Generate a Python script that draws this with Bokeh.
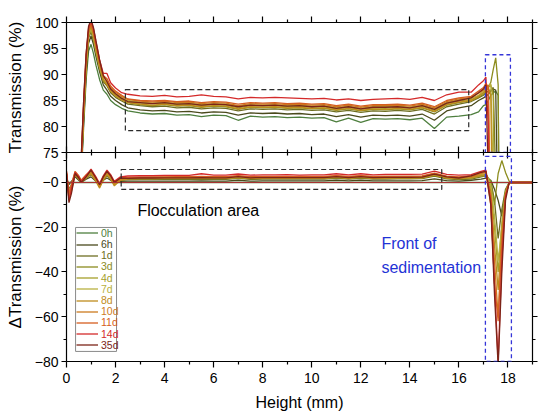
from bokeh.plotting import figure
from bokeh.layouts import column
from bokeh.models import (Range1d, LinearAxis, FixedTicker, BoxAnnotation, Span,
                          Label, Legend, LegendItem, CustomLabelingPolicy)
from bokeh.embed import file_html
from bokeh.resources import INLINE

FONT = "Liberation Sans"

series = ["0h", "6h", "1d", "3d", "4d", "7d", "8d", "10d", "11d", "14d", "35d"]
colors = ["#4e7f3e", "#4a4a1c", "#6e6e22", "#8c8c1e", "#a6a02a", "#b8b040",
          "#bf8c1c", "#cc7a1e", "#d55e20", "#d42a2a", "#7c2418"]

# ---------------- top panel: Transmission (%) ----------------
x_top = ([0.5, 0.6, 0.7, 0.8, 0.9, 1.0, 1.1, 1.2, 1.35, 1.5, 1.65, 1.8, 2.0, 2.25]
         + [2.5, 3.0, 3.5, 4.0, 4.5, 5.0, 5.5, 6.0, 6.5, 7.0, 7.5, 8.0, 8.5, 9.0,
            9.5, 10.0, 10.5, 11.0, 11.5, 12.0, 12.5, 13.0, 13.5, 14.0, 14.5, 15.0, 15.5, 16.0]
         + [16.5, 16.8, 17.0, 17.1, 17.2, 17.3, 17.4, 17.5, 17.6, 17.7, 17.8])

t_0h = ([60, 70, 80, 89, 94.5, 95.8, 94.0, 91.8, 89.0, 87.0, 86.2, 85.0, 84.2, 83.5]
        + [83.0, 82.6, 82.4, 82.5, 82.2, 82.3, 81.9, 82.2, 82.1, 81.2, 82.0, 81.8, 81.9, 81.7,
           81.8, 81.6, 81.7, 80.9, 81.6, 80.8, 81.5, 81.4, 81.5, 81.3, 81.6, 79.6, 81.8, 82.0]
        + [82.3, 82.8, 84.0, 84.2, 85.0, 86.0, 86.5, 86.8, 86.0, 30.0, 5.0])
t_6h = ([60, 71, 81, 90, 96.0, 97.4, 95.8, 93.5, 90.5, 88.0, 87.0, 85.8, 85.0, 84.2]
        + [83.6, 83.2, 83.0, 83.1, 82.8, 82.9, 82.6, 82.8, 82.7, 82.2, 82.6, 82.5, 82.6, 82.4,
           82.5, 82.3, 82.4, 81.9, 82.3, 81.8, 82.2, 82.1, 82.2, 82.0, 82.4, 81.2, 83.0, 83.6]
        + [84.0, 85.0, 85.5, 85.8, 86.2, 86.8, 87.2, 87.0, 60.0, 8.0, 5.0])
t_1d = ([61, 71, 82, 91, 97.0, 98.2, 96.5, 94.0, 91.0, 88.6, 87.8, 86.5, 85.6, 84.9]
        + [84.3, 84.0, 83.8, 83.9, 83.6, 83.7, 83.4, 83.6, 83.5, 83.0, 83.4, 83.3, 83.4, 83.2,
           83.3, 83.1, 83.2, 82.8, 83.1, 82.7, 83.0, 82.9, 83.1, 82.9, 83.3, 82.4, 83.8, 84.3]
        + [84.8, 85.5, 86.0, 86.5, 86.8, 87.0, 87.5, 70.0, 10.0, 6.0, 5.0])
t_3d = ([61, 72, 82, 91, 97.2, 98.6, 97.0, 94.5, 91.3, 88.8, 88.0, 86.8, 85.9, 85.2]
        + [84.6, 84.2, 84.0, 84.2, 83.9, 84.0, 83.7, 83.9, 83.8, 83.3, 83.7, 83.6, 83.7, 83.5,
           83.6, 83.4, 83.5, 83.1, 83.4, 83.0, 83.3, 83.2, 83.4, 83.2, 83.6, 82.8, 84.1, 84.6]
        + [85.0, 85.6, 86.2, 86.8, 87.5, 88.5, 91.0, 93.2, 88.0, 20.0, 5.0])
t_4d = ([61, 72, 83, 92, 97.8, 99.0, 97.4, 94.8, 91.5, 89.0, 88.2, 87.0, 86.1, 85.4]
        + [84.8, 84.5, 84.4, 84.5, 84.2, 84.3, 84.0, 84.2, 84.1, 83.6, 84.0, 83.9, 84.0, 83.8,
           83.9, 83.7, 83.8, 83.4, 83.7, 83.3, 83.6, 83.5, 83.7, 83.5, 83.9, 83.1, 84.4, 84.9]
        + [85.2, 85.8, 86.5, 87.0, 87.5, 88.0, 86.0, 40.0, 8.0, 5.0, 5.0])
t_7d = ([61, 72, 83, 92, 97.5, 98.8, 97.2, 94.6, 91.4, 89.2, 88.4, 87.2, 86.3, 85.6]
        + [85.0, 84.7, 84.5, 84.7, 84.4, 84.5, 84.2, 84.4, 84.3, 83.9, 84.2, 84.1, 84.2, 84.0,
           84.1, 83.9, 84.0, 83.6, 83.9, 83.5, 83.8, 83.8, 83.9, 83.7, 84.1, 83.4, 84.6, 85.1]
        + [85.4, 86.0, 86.8, 87.2, 87.8, 88.2, 70.0, 10.0, 6.0, 5.0, 5.0])
t_8d = ([62, 72, 83, 92, 98.0, 99.2, 97.6, 95.0, 91.8, 89.0, 88.0, 86.8, 85.9, 85.1]
        + [84.6, 84.3, 84.1, 84.3, 84.0, 84.1, 83.8, 84.0, 83.9, 83.4, 83.8, 83.7, 83.8, 83.6,
           83.7, 83.5, 83.6, 83.2, 83.5, 83.1, 83.4, 83.3, 83.5, 83.3, 83.7, 82.9, 84.2, 84.7]
        + [85.0, 85.8, 86.5, 87.0, 87.5, 86.0, 50.0, 8.0, 5.0, 5.0, 5.0])
t_10d = ([62, 73, 84, 93, 98.3, 99.5, 98.0, 95.4, 92.0, 89.5, 88.8, 87.5, 86.6, 85.8]
         + [85.2, 84.9, 84.7, 84.9, 84.6, 84.7, 84.4, 84.6, 84.5, 84.0, 84.4, 84.3, 84.4, 84.2,
            84.3, 84.1, 84.2, 83.8, 84.1, 83.7, 84.0, 84.0, 84.1, 83.9, 84.3, 83.6, 84.8, 85.3]
         + [85.6, 86.4, 87.0, 87.5, 88.0, 60.0, 10.0, 6.0, 5.0, 5.0, 5.0])
t_11d = ([62, 73, 84, 93, 98.6, 99.8, 98.3, 95.8, 92.3, 89.8, 89.2, 87.8, 86.8, 86.0]
         + [85.3, 85.0, 84.9, 85.0, 84.8, 84.9, 84.6, 84.8, 84.7, 84.3, 84.6, 84.5, 84.6, 84.4,
            84.5, 84.3, 84.4, 84.0, 84.3, 83.9, 84.2, 84.2, 84.3, 84.1, 84.5, 83.8, 85.0, 85.5]
         + [85.8, 86.8, 87.5, 88.3, 87.5, 40.0, 8.0, 5.0, 5.0, 5.0, 5.0])
t_14d = ([63, 74, 85, 94, 99.0, 100.3, 98.8, 96.3, 92.8, 90.2, 90.2, 88.4, 87.4, 86.5]
         + [86.2, 85.9, 85.8, 86.0, 85.7, 85.8, 86.1, 85.8, 85.7, 85.3, 85.6, 85.5, 85.6, 85.5,
            85.4, 85.3, 85.4, 85.1, 85.3, 85.0, 85.2, 85.3, 85.4, 85.2, 85.6, 85.0, 86.1, 86.6]
         + [86.6, 88.0, 88.8, 89.5, 80.0, 10.0, 6.0, 5.0, 5.0, 5.0, 5.0])
t_35d = ([63, 74, 85, 94, 99.3, 100.6, 99.0, 96.5, 92.8, 89.8, 88.6, 87.2, 86.3, 85.4]
         + [84.8, 84.6, 84.4, 84.6, 84.3, 84.4, 84.1, 84.3, 84.2, 83.8, 84.1, 84.0, 84.1, 83.9,
            84.0, 83.8, 83.9, 83.5, 83.8, 83.4, 83.7, 83.7, 83.8, 83.6, 84.0, 83.3, 84.5, 85.0]
         + [85.5, 86.5, 87.2, 88.0, 70.0, 8.0, 5.0, 5.0, 5.0, 5.0, 5.0])
top_values = [t_0h, t_6h, t_1d, t_3d, t_4d, t_7d, t_8d, t_10d, t_11d, t_14d, t_35d]

# ---------------- bottom panel: delta Transmission (%) ----------------
x_bot = ([0.0, 0.1, 0.2, 0.35, 0.5, 0.6, 0.8, 1.0, 1.2, 1.35, 1.5, 1.65, 1.8, 1.95, 2.2]
         + [2.5, 3.0, 3.5, 4.0, 4.5, 5.0, 5.5, 6.0, 6.5, 7.0, 7.5, 8.0, 8.5, 9.0,
            9.5, 10.0, 10.5, 11.0, 11.5, 12.0, 12.5, 13.0, 13.5, 14.0, 14.5, 15.0, 15.5, 16.0]
         + [16.5, 16.9, 17.1, 17.3, 17.45, 17.6, 17.75, 17.9, 18.05, 18.3, 19.0])

# 0h is the reference profile: its delta is zero over the whole height
x_bot_0h = [0.0, 19.0]
d_0h = [0.0, 0.0]
d_6h = ([2.0, -1.0, 0.5, 2.5, 1.0, 0.0, 1.5, 2.5, 0.5, -0.5, 1.0, 2.0, 1.0, 0.0, 0.5]
        + [0.6, 0.6, 0.6, 0.6, 0.6, 0.6, 0.7, 0.6, 0.6, 1.0, 0.6, 0.7, 0.7, 0.7,
           0.7, 0.7, 0.7, 1.0, 0.7, 1.0, 0.7, 0.7, 0.7, 0.7, 0.8, 1.6, 0.8, 0.6]
        + [1.0, 1.5, 2.0, 1.0, -3.0, -8.0, -15.0, -5.0, 0.0, 0.0, 0.0])
d_1d = ([3.0, -3.0, -1.0, 3.0, 1.5, 0.5, 2.0, 3.5, 1.0, -1.0, 1.0, 3.0, 1.5, 0.0, 1.0]
        + [1.3, 1.4, 1.4, 1.4, 1.4, 1.4, 1.5, 1.4, 1.4, 1.8, 1.4, 1.5, 1.5, 1.5,
           1.5, 1.5, 1.5, 1.9, 1.5, 1.9, 1.5, 1.5, 1.6, 1.6, 1.7, 2.8, 1.6, 1.3]
        + [1.5, 2.5, 3.0, 0.5, -8.0, -25.0, -12.0, -3.0, 0.0, 0.0, 0.0])
d_3d = ([4.0, -5.0, -2.0, 3.5, 2.0, 0.5, 2.5, 4.0, 1.5, -1.5, 1.5, 3.5, 2.0, -0.5, 1.0]
        + [1.6, 1.6, 1.6, 1.7, 1.7, 1.7, 1.8, 1.7, 1.7, 2.1, 1.7, 1.8, 1.8, 1.8,
           1.8, 1.8, 1.8, 2.2, 1.8, 2.2, 1.8, 1.8, 1.9, 1.9, 2.0, 3.2, 1.9, 1.6]
        + [2.0, 3.0, 3.5, 0.5, -10.0, 4.0, 9.8, 4.5, 0.5, 0.0, 0.0])
d_4d = ([3.0, -6.0, -3.0, 4.0, 2.0, 0.0, 2.5, 4.5, 1.0, -2.0, 1.5, 4.0, 2.0, -1.0, 1.5]
        + [1.8, 1.9, 2.0, 2.0, 2.0, 2.0, 2.1, 2.0, 2.0, 2.4, 2.0, 2.1, 2.1, 2.1,
           2.1, 2.1, 2.1, 2.5, 2.1, 2.5, 2.1, 2.1, 2.2, 2.2, 2.3, 3.5, 2.2, 1.9]
        + [2.0, 3.0, 3.0, -2.0, -20.0, -40.0, -18.0, -4.0, 0.0, 0.0, 0.0])
d_7d = ([4.0, -4.0, -1.0, 4.5, 2.5, 1.0, 3.0, 4.5, 1.5, -1.5, 2.0, 4.0, 2.5, -0.5, 1.5]
        + [2.0, 2.1, 2.1, 2.2, 2.2, 2.2, 2.3, 2.2, 2.2, 2.7, 2.2, 2.3, 2.3, 2.3,
           2.3, 2.3, 2.3, 2.7, 2.3, 2.7, 2.3, 2.4, 2.4, 2.4, 2.5, 3.8, 2.4, 2.1]
        + [2.5, 3.5, 4.0, -1.0, -15.0, -35.0, -20.0, -5.0, 0.0, 0.0, 0.0])
d_8d = ([3.0, -7.0, -4.0, 3.5, 1.5, 0.0, 2.0, 4.0, 0.5, -2.5, 1.0, 3.5, 1.5, -1.5, 1.0]
        + [1.6, 1.7, 1.7, 1.8, 1.8, 1.8, 1.9, 1.8, 1.8, 2.2, 1.8, 1.9, 1.9, 1.9,
           1.9, 1.9, 1.9, 2.3, 1.9, 2.3, 1.9, 1.9, 2.0, 2.0, 2.1, 3.3, 2.0, 1.7]
        + [2.2, 3.2, 3.5, -4.0, -28.0, -48.0, -22.0, -5.0, 0.0, 0.0, 0.0])
d_10d = ([4.0, -6.0, -2.0, 4.5, 2.5, 0.5, 3.0, 5.0, 1.5, -1.5, 2.0, 4.5, 2.5, -0.5, 1.5]
         + [2.2, 2.3, 2.3, 2.4, 2.4, 2.4, 2.5, 2.4, 2.4, 2.8, 2.4, 2.5, 2.5, 2.5,
            2.5, 2.5, 2.5, 2.9, 2.5, 2.9, 2.5, 2.6, 2.6, 2.6, 2.7, 4.0, 2.6, 2.3]
         + [2.5, 4.0, 4.5, -6.0, -35.0, -60.0, -25.0, -6.0, 0.0, 0.0, 0.0])
d_11d = ([5.0, -5.0, -1.0, 5.0, 3.0, 1.0, 3.5, 5.5, 2.0, -1.0, 2.5, 5.0, 3.0, 0.0, 2.0]
         + [2.3, 2.4, 2.5, 2.5, 2.6, 2.6, 2.7, 2.6, 2.6, 3.1, 2.6, 2.7, 2.7, 2.7,
            2.7, 2.7, 2.7, 3.1, 2.7, 3.1, 2.7, 2.8, 2.8, 2.8, 2.9, 4.2, 2.8, 2.5]
         + [3.0, 4.5, 5.0, -10.0, -45.0, -62.0, -28.0, -6.0, 0.0, 0.0, 0.0])
d_14d = ([5.0, -8.0, -3.0, 4.5, 2.5, 0.5, 3.0, 6.0, 2.5, -0.5, 3.0, 5.5, 3.5, 0.5, 2.5]
         + [2.9, 3.0, 3.1, 3.2, 3.2, 3.2, 3.9, 3.3, 3.3, 3.8, 3.3, 3.4, 3.4, 3.5,
            3.3, 3.4, 3.4, 3.9, 3.4, 3.9, 3.4, 3.6, 3.6, 3.6, 3.7, 5.1, 3.6, 3.3]
         + [3.5, 5.0, 5.5, -8.0, -45.0, -80.0, -35.0, -6.0, 0.0, 0.0, 0.0])
d_35d = ([4.0, -9.0, -5.0, 4.0, 2.0, 0.0, 2.5, 5.5, 2.0, -1.0, 2.5, 5.0, 3.0, 0.0, 2.0]
         + [1.8, 2.0, 2.0, 2.1, 2.1, 2.1, 2.2, 2.1, 2.1, 2.6, 2.1, 2.2, 2.2, 2.2,
            2.2, 2.2, 2.2, 2.6, 2.2, 2.6, 2.2, 2.3, 2.3, 2.3, 2.4, 3.7, 2.5, 2.0]
         + [3.0, 4.5, 5.0, -10.0, -50.0, -82.0, -40.0, -8.0, 0.0, 0.0, 0.0])
bottom_values = [d_6h, d_1d, d_3d, d_4d, d_7d, d_8d, d_10d, d_11d, d_14d, d_35d]

x_major = [0, 2, 4, 6, 8, 10, 12, 14, 16, 18]
x_minor = [1, 3, 5, 7, 9, 11, 13, 15, 17, 19]
top_y_ticks = [75, 80, 85, 90, 95, 100]
bot_y_ticks = [-80, -60, -40, -20, 0]
bot_y_minor = [-70, -50, -30, -10, 10]
bot_y_labels = {-80: "\u221280", -60: "\u221260", -40: "\u221240", -20: "\u221220", 0: "\u22120"}

# annotation boxes (data coordinates)
floc_box_top = dict(left=2.4, right=16.4, bottom=79.2, top=87.1)
front_box_top = dict(left=17.08, right=18.1, bottom=75.0, top=93.8)
floc_box_bot = dict(left=2.23, right=15.3, bottom=-3.1, top=5.8)
front_box_bot = dict(left=17.08, right=18.14, bottom=-80.0, top=11.7)

AX_W = 1.2
NO_LABELS = CustomLabelingPolicy(code="return []")


def style_axis(ax, labels=True, tin=0, tout=5, minor_in=0, minor_out=3):
    ax.axis_line_width = AX_W
    ax.axis_line_color = "black"
    ax.major_tick_line_width = AX_W
    ax.minor_tick_line_width = AX_W
    ax.major_tick_in = tin
    ax.major_tick_out = tout
    ax.minor_tick_in = minor_in
    ax.minor_tick_out = minor_out
    ax.major_label_text_font = FONT
    ax.major_label_text_color = "black"
    if labels:
        ax.major_label_text_font_size = "14px"
        ax.major_label_standoff = 3
    else:
        ax.major_label_text_font_size = "0px"
        ax.major_label_standoff = 0
        ax.major_label_policy = NO_LABELS
    ax.axis_label_text_font = FONT
    ax.axis_label_text_font_style = "normal"
    ax.axis_label_text_color = "black"
    return ax


def dashed_box(coords, color, dash, width):
    return BoxAnnotation(**coords, fill_color=None, fill_alpha=0, line_color=color,
                         line_alpha=1.0, line_width=width, line_dash=dash)


# ---------- top figure ----------
p1 = figure(frame_width=466, frame_height=130, x_range=Range1d(0, 19), y_range=Range1d(75, 100),
            output_backend="svg", toolbar_location=None,
            x_axis_location=None, y_axis_location=None,
            min_border_left=66, min_border_right=12, min_border_top=22, min_border_bottom=8)
p1.xgrid.visible = False
p1.ygrid.visible = False
p1.outline_line_color = None

ax = style_axis(LinearAxis(ticker=FixedTicker(ticks=top_y_ticks, minor_ticks=[])))
ax.axis_label = "Transmission (%)"
ax.axis_label_text_font_size = "17px"
ax.axis_label_standoff = 7
p1.add_layout(ax, "left")
p1.add_layout(style_axis(LinearAxis(ticker=FixedTicker(ticks=top_y_ticks, minor_ticks=[])),
                         labels=False), "right")
p1.add_layout(style_axis(LinearAxis(ticker=FixedTicker(ticks=x_major, minor_ticks=x_minor)),
                         labels=False, tout=6, minor_out=3), "above")
p1.add_layout(style_axis(LinearAxis(ticker=FixedTicker(ticks=x_major, minor_ticks=x_minor)),
                         labels=False, tin=6, tout=0, minor_in=3, minor_out=0), "below")

for name, col, vals in zip(series, colors, top_values):
    p1.line(x_top, vals, line_color=col, line_width=1.3)

p1.add_layout(dashed_box(floc_box_top, "#2a2a2a", "5 3", 1.2))
p1.add_layout(dashed_box(front_box_top, "#3535d8", "4 3", 1.3))

# ---------- bottom figure ----------
p2 = figure(frame_width=466, frame_height=209, x_range=Range1d(0, 19), y_range=Range1d(-80, 13.4),
            output_backend="svg", toolbar_location=None,
            x_axis_location=None, y_axis_location=None,
            min_border_left=66, min_border_right=12, min_border_top=0, min_border_bottom=0)
p2.xgrid.visible = False
p2.ygrid.visible = False
p2.outline_line_color = None
p2.border_fill_color = None
p2.margin = (-8, 0, 0, 0)

ay = style_axis(LinearAxis(ticker=FixedTicker(ticks=bot_y_ticks, minor_ticks=bot_y_minor)))
ay.major_label_overrides = bot_y_labels
ay.axis_label = "\u0394Transmission (%)"
ay.axis_label_text_font_size = "17px"
ay.axis_label_standoff = 7
p2.add_layout(ay, "left")
p2.add_layout(style_axis(LinearAxis(ticker=FixedTicker(ticks=bot_y_ticks, minor_ticks=bot_y_minor)),
                         labels=False), "right")
p2.add_layout(style_axis(LinearAxis(ticker=FixedTicker(ticks=x_major, minor_ticks=x_minor)),
                         labels=False, tin=6, tout=0, minor_in=3, minor_out=0), "above")
axb = style_axis(LinearAxis(ticker=FixedTicker(ticks=x_major, minor_ticks=x_minor)),
                 tout=6, minor_out=3)
axb.major_label_standoff = 5
axb.axis_label = "Height (mm)"
axb.axis_label_text_font_size = "16px"
axb.axis_label_standoff = 8
p2.add_layout(axb, "below")

legend_renderers = [p2.line(x_bot_0h, d_0h, line_color=colors[0], line_width=1.3)]
for name, col, vals in zip(series[1:], colors[1:], bottom_values):
    legend_renderers.append(p2.line(x_bot, vals, line_color=col, line_width=1.3))

p2.add_layout(Span(location=0, dimension="width", line_color="#a83232", line_width=1.2))

p2.add_layout(dashed_box(floc_box_bot, "#2a2a2a", "5 3", 1.2))
p2.add_layout(dashed_box(front_box_bot, "#3535d8", "4 3", 1.3))

p2.add_layout(Label(x=2.89, y=-12.5, text="Flocculation area", text_font=FONT,
                    text_font_size="16px", text_color="black", text_baseline="alphabetic"))
p2.add_layout(Label(x=12.84, y=-27.3, text="Front of", text_font=FONT,
                    text_font_size="16px", text_color="#1f33d6", text_baseline="alphabetic"))
p2.add_layout(Label(x=12.84, y=-38.0, text="sedimentation", text_font=FONT,
                    text_font_size="16px", text_color="#1f33d6", text_baseline="alphabetic"))

# legend frame
p2.add_layout(BoxAnnotation(left=0.37, right=2.04, top=-20.1, bottom=-75.5,
                            fill_color="white", fill_alpha=1.0,
                            line_color="#8a8a8a", line_alpha=1.0, line_width=1))
for i, (name, col, r) in enumerate(zip(series, colors, legend_renderers)):
    leg = Legend(items=[LegendItem(label=name, renderers=[r])],
                 location=(10, 122.2 - 11.2 * i),
                 border_line_color=None, background_fill_alpha=0,
                 padding=0, spacing=0, margin=0,
                 glyph_width=22, glyph_height=11, label_height=11, label_standoff=3,
                 label_text_font=FONT, label_text_font_size="10.5px",
                 label_text_color=col, label_text_baseline="middle")
    p2.add_layout(leg)

layout = column(p1, p2, spacing=0)
open("out.html", "w").write(file_html(layout, INLINE))
